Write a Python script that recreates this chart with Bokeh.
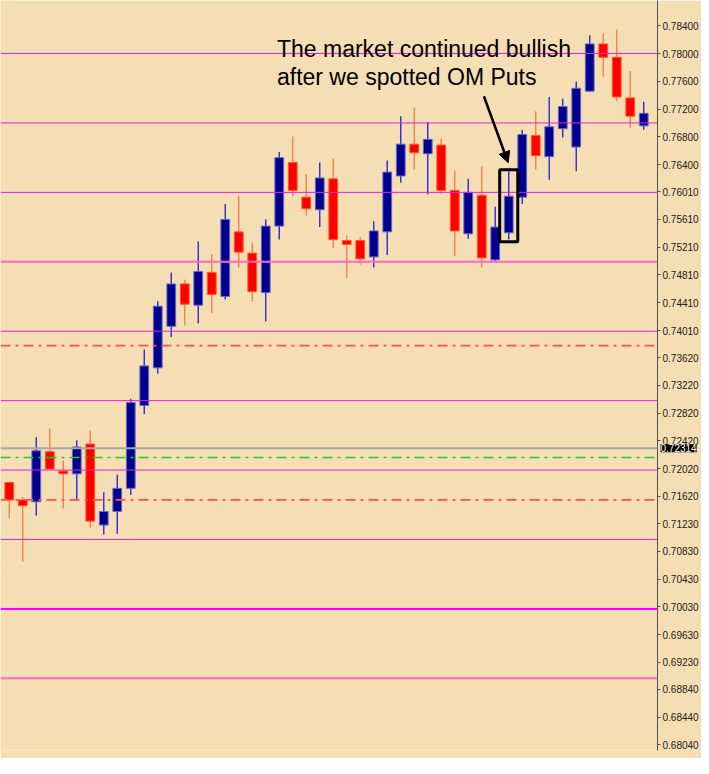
from bokeh.plotting import figure
from bokeh.models import (ColumnDataSource, Span, Label, Arrow, NormalHead,
                          BoxAnnotation, FixedTicker, PrintfTickFormatter)
from bokeh.embed import file_html
from bokeh.resources import INLINE

# candle prices (left to right)
opens = [0.71820, 0.71570, 0.71542, 0.72264, 0.71986, 0.71945, 0.72375, 0.71208, 0.71403, 0.71736,
         0.72931, 0.73472, 0.74070, 0.74681, 0.74375, 0.74847, 0.74500, 0.75431, 0.75125, 0.74556,
         0.75514, 0.76431, 0.75931, 0.75750, 0.76195, 0.75306, 0.75306, 0.75070, 0.75431, 0.76236,
         0.76695, 0.76556, 0.76681, 0.76028, 0.75403, 0.75958, 0.75028, 0.75417, 0.75931, 0.76820,
         0.76514, 0.76917, 0.76653, 0.77458, 0.78139, 0.77945, 0.77361, 0.76958]
closes = [0.71570, 0.71486, 0.72278, 0.72014, 0.71945, 0.72333, 0.71264, 0.71403, 0.71736, 0.72972,
          0.73500, 0.74361, 0.74681, 0.74389, 0.74861, 0.74528, 0.75611, 0.75139, 0.74570, 0.75514,
          0.76500, 0.76028, 0.75764, 0.76208, 0.75320, 0.75250, 0.75042, 0.75445, 0.76292, 0.76695,
          0.76570, 0.76764, 0.76028, 0.75445, 0.76000, 0.75056, 0.75500, 0.75945, 0.76833, 0.76528,
          0.76945, 0.77236, 0.77500, 0.78139, 0.77945, 0.77375, 0.77097, 0.77139]
highs = [0.71833, 0.71611, 0.72472, 0.72597, 0.72139, 0.72431, 0.72570, 0.71681, 0.71931, 0.73028,
         0.73736, 0.74431, 0.74847, 0.74736, 0.75292, 0.75111, 0.75833, 0.75945, 0.75278, 0.75611,
         0.76583, 0.76806, 0.76264, 0.76431, 0.76486, 0.75375, 0.75361, 0.75583, 0.76458, 0.77097,
         0.77222, 0.77014, 0.76778, 0.76320, 0.76195, 0.76375, 0.75792, 0.76306, 0.76903, 0.77167,
         0.77375, 0.77347, 0.77597, 0.78264, 0.78292, 0.78347, 0.77750, 0.77306]
lows = [0.71306, 0.70681, 0.71347, 0.72000, 0.71445, 0.71556, 0.71167, 0.71070, 0.71083, 0.71639,
        0.72806, 0.73389, 0.73917, 0.74083, 0.74111, 0.74264, 0.74458, 0.74917, 0.74431, 0.74139,
        0.75320, 0.75945, 0.75667, 0.75500, 0.75195, 0.74764, 0.74958, 0.74917, 0.75097, 0.76139,
        0.76333, 0.75972, 0.75972, 0.75083, 0.75333, 0.74917, 0.75000, 0.75320, 0.75833, 0.76333,
        0.76181, 0.76792, 0.76306, 0.77445, 0.77667, 0.77320, 0.76931, 0.76903]

# horizontal levels drawn on the chart
levels = [0.78, 0.77, 0.76, 0.75, 0.74, 0.73, 0.72, 0.71, 0.70, 0.69]
red_dashdot = [0.73792, 0.71569]
green_dashdot = [0.72181]
current_price = 0.72314

tick_values = [0.7840, 0.7800, 0.7760, 0.7720, 0.7680, 0.7640, 0.7601, 0.7561, 0.7521, 0.7481,
               0.7441, 0.7401, 0.7362, 0.7322, 0.7282, 0.7242, 0.7202, 0.7162, 0.7123, 0.7083,
               0.7043, 0.7003, 0.6963, 0.6923, 0.6884, 0.6844, 0.6804]

note_lines = ["The market continued bullish", "after we spotted OM Puts"]
marked = 37  # candle inside the black box

idx = list(range(len(opens)))
up = [c > o for o, c in zip(opens, closes)]
src = ColumnDataSource(dict(
    x=idx, high=highs, low=lows,
    top=[max(o, c) for o, c in zip(opens, closes)],
    bottom=[min(o, c) for o, c in zip(opens, closes)],
    fill=["#000090" if u else "#ff0000" for u in up],
    edge=["#6a6ac0" if u else "#ff5a1e" for u in up],
    wick=["#2a2ad8" if u else "#f5804f" for u in up],
))

bg = "#f5deb3"
x_end = 48.02
p = figure(width=701, height=758, output_backend="svg", toolbar_location=None,
           x_range=(-0.65, x_end), y_range=(0.6796, 0.78764),
           x_axis_location=None, y_axis_location="right", min_border=0,
           background_fill_color=bg, border_fill_color=bg, outline_line_color=None)
p.grid.grid_line_color = None

for v in levels:
    if v == 0.70:
        p.add_layout(Span(location=v, dimension="width", line_color="#ff00ff", line_width=2))
    elif v in (0.75, 0.69):
        p.add_layout(Span(location=v, dimension="width", line_color="#ff66cc", line_width=2))
    else:
        p.add_layout(Span(location=v, dimension="width", line_color="#e020e0", line_width=1))
for v in red_dashdot:
    p.add_layout(Span(location=v, dimension="width", line_color="#ff4f4f",
                      line_width=1.8, line_dash="10 5 3 5"))
for v in green_dashdot:
    p.add_layout(Span(location=v, dimension="width", line_color="#22cc22",
                      line_width=1.5, line_dash="10 5 3 5"))
p.add_layout(Span(location=current_price, dimension="width", line_color="#a8a8a8", line_width=2))

p.segment(x0="x", y0="high", x1="x", y1="low", line_color="wick", line_width=1.4, source=src)
p.vbar(x="x", width=0.65, top="top", bottom="bottom", fill_color="fill",
       line_color="edge", line_width=1, source=src)

# box around the marked candle and the arrow pointing to it
p.add_layout(BoxAnnotation(left=marked - 0.67, right=marked + 0.67,
                           top=highs[marked] + 0.0002, bottom=lows[marked] - 0.0003,
                           fill_color=None, line_color="black", line_alpha=1.0, line_width=3))
p.add_layout(Arrow(end=NormalHead(size=11, fill_color="black", line_color="black"),
                   x_start=35.16, y_start=0.77385, x_end=36.96, y_end=0.76427,
                   line_color="black", line_width=2.5))

for i, t in enumerate(note_lines):
    p.add_layout(Label(x=19.83, y=0.78070 - i * 0.00403, text=t, text_font="Liberation Sans",
                       text_font_size="23px", text_color="black", text_baseline="alphabetic"))

ax = p.yaxis[0]
ax.ticker = FixedTicker(ticks=tick_values)
ax.formatter = PrintfTickFormatter(format="%.5f")
ax.major_label_text_font = "Liberation Sans"
ax.major_label_text_font_size = "10px"
ax.major_label_text_color = "#202020"
ax.axis_line_color = "#505050"
ax.major_tick_line_color = "#505050"
ax.major_tick_out = 3
ax.major_tick_in = 0
ax.minor_tick_line_color = None
ax.major_label_standoff = 2

# price tag over the axis: centre annotations get clipped to the frame,
# so this one lives in a side panel
p.add_layout(Label(x=x_end, y=current_price, x_offset=3, text="%.5f" % current_price,
                   text_font="Liberation Sans", text_font_size="10px", text_color="white",
                   text_baseline="middle", background_fill_color="black"), "below")

open("out.html", "w").write(file_html(p, INLINE))
